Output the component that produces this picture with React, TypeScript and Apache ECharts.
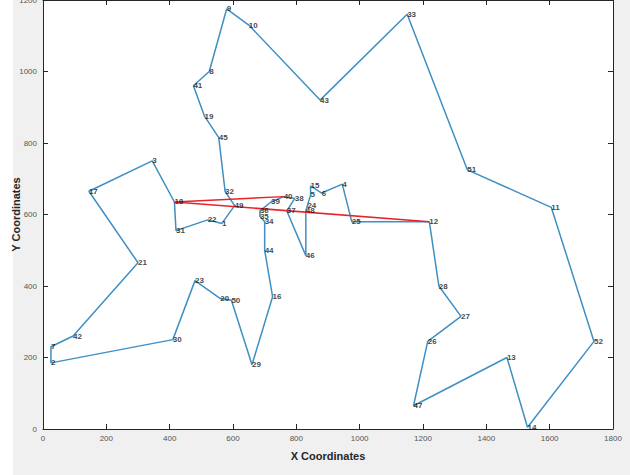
import React, { useEffect, useRef } from "react";
import * as echarts from "echarts";

// berlin52 city coordinates (id, x, y)
const cityIds = [1,2,3,4,5,6,7,8,9,10,11,12,13,14,15,16,17,18,19,20,21,22,23,24,25,26,27,28,29,30,31,32,33,34,35,36,37,38,39,40,41,42,43,44,45,46,47,48,49,50,51,52];
const cityX = [565,25,345,945,845,880,25,525,580,650,1605,1220,1465,1530,845,725,145,415,510,560,300,520,480,835,975,1215,1320,1250,660,410,420,575,1150,700,685,685,770,795,720,760,475,95,875,700,555,830,1170,830,605,595,1340,1740];
const cityY = [575,185,750,685,655,660,230,1000,1175,1130,620,580,200,5,680,370,665,635,875,365,465,585,415,625,580,245,315,400,180,250,555,665,1160,580,595,610,610,645,635,650,960,260,920,500,815,485,65,610,625,360,725,245];

// tour drawn in blue
const tourOrder = [12,28,27,26,47,13,14,52,11,51,33,43,10,9,8,41,19,45,32,49,1,22,31,18,3,17,21,42,7,2,30,23,20,50,29,16,44,34,35,36,39,40,38,37,46,48,24,5,15,6,4,25,12];
// highlighted edges in red
const redEdges = [[18,40],[18,12]];

const xTicks = { min: 0, max: 1800, interval: 200 };
const yTicks = { min: 0, max: 1200, interval: 200 };

const FONT = "'Liberation Sans Narrow', 'Arial Narrow', 'Liberation Sans', Arial, sans-serif";

const pt = (id: number) => {
  const i = cityIds.indexOf(id);
  return [cityX[i], cityY[i]];
};

export default function App() {
  const ref = useRef<HTMLDivElement>(null);
  useEffect(() => {
    if (!ref.current) return;
    const chart = echarts.init(ref.current, null, { renderer: "svg" });
    const axisCommon = {
      axisLine: { show: true, onZero: false, lineStyle: { color: "#262626", width: 1 } },
      axisTick: { show: true, inside: true, length: 5, lineStyle: { color: "#262626" } },
      splitLine: { show: false },
    };
    chart.setOption({
      animation: false,
      grid: {
        left: 43, right: 17, top: 0, bottom: 46,
        containLabel: false, outerBoundsMode: "none",
        show: true, backgroundColor: "#ffffff", borderWidth: 0,
      },
      xAxis: [
        {
          type: "value", ...xTicks, ...axisCommon,
          name: "X Coordinates", nameLocation: "middle", nameGap: 21, nameMoveOverlap: false,
          nameTextStyle: { fontFamily: FONT, fontWeight: "bold", fontSize: 11, color: "#262626" },
          axisLabel: { fontFamily: FONT, fontSize: 8, color: "#555", margin: 5, formatter: (v: number) => String(v) },
        },
        {
          type: "value", position: "top", ...xTicks, ...axisCommon,
          axisLabel: { show: false },
        },
      ],
      yAxis: [
        {
          type: "value", ...yTicks, ...axisCommon,
          name: "Y Coordinates", nameLocation: "middle", nameGap: 22, nameMoveOverlap: false,
          nameTextStyle: { fontFamily: FONT, fontWeight: "bold", fontSize: 11, color: "#262626" },
          axisLabel: { fontFamily: FONT, fontSize: 8, color: "#555", margin: 6, formatter: (v: number) => String(v) },
        },
        {
          type: "value", position: "right", ...yTicks, ...axisCommon,
          axisLabel: { show: false },
        },
      ],
      series: [
        {
          type: "line",
          data: tourOrder.map(pt),
          showSymbol: false,
          symbol: "none",
          lineStyle: { color: "#3f8fc4", width: 1.5 },
          z: 2,
        },
        ...redEdges.map((e) => ({
          type: "line",
          data: e.map(pt),
          showSymbol: false,
          symbol: "none",
          lineStyle: { color: "#e8232b", width: 1.5 },
          z: 3,
        })),
        {
          type: "scatter",
          data: cityIds.map((id, i) => [cityX[i], cityY[i], id]),
          symbolSize: 0,
          label: {
            show: true,
            position: "right",
            distance: 0,
            formatter: (p: any) => String(p.value[2]),
            fontFamily: FONT,
            fontSize: 8,
            fontWeight: "bold",
            color: "#111",
          },
          z: 4,
        },
      ],
    });
    return () => chart.dispose();
  }, []);
  return (
    <div style={{ position: "fixed", left: 0, top: 0, width: 630, height: 475, background: "#ffffff" }}>
      <div style={{ position: "absolute", left: 13, top: 0, width: 617, height: 475, background: "#f0f0f0" }} />
      <div ref={ref} style={{ position: "absolute", left: 0, top: 0, width: 630, height: 475 }} />
    </div>
  );
}
